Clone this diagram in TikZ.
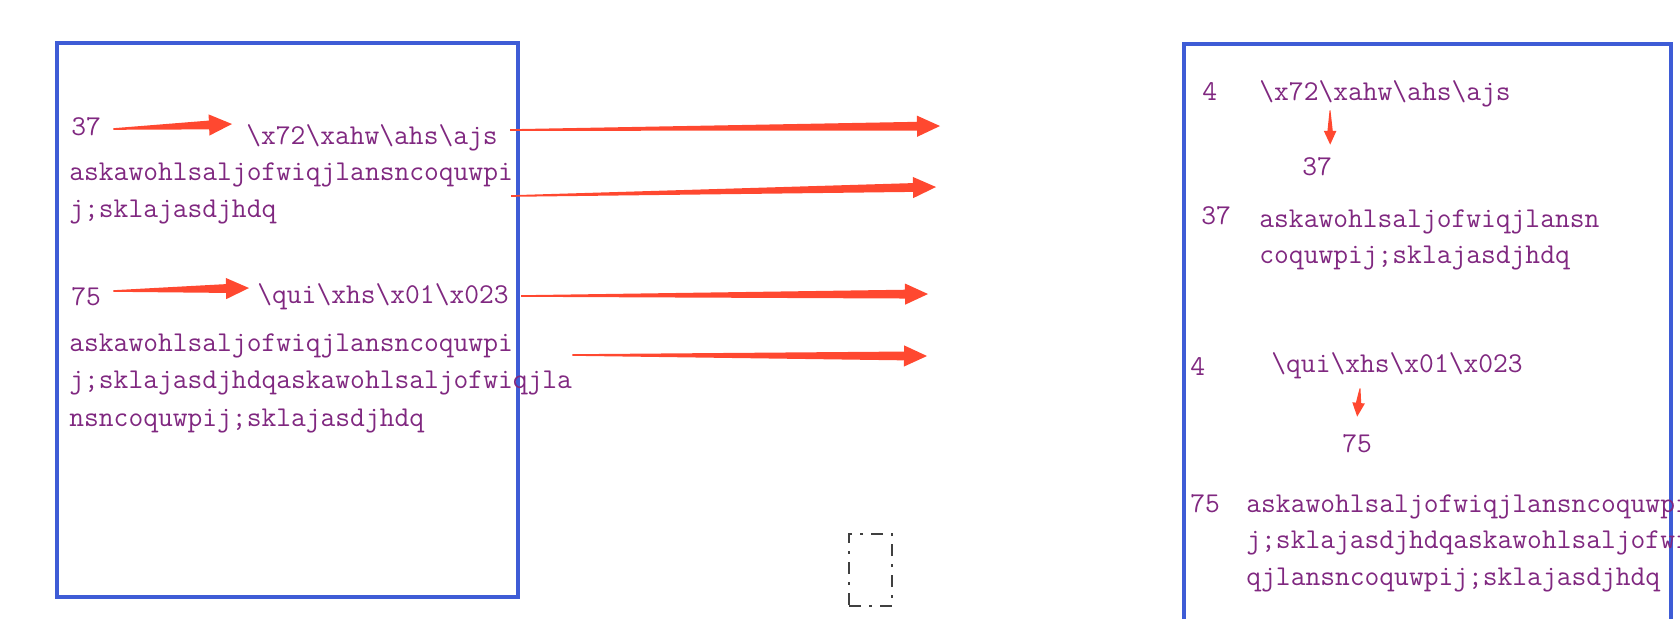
\documentclass[tikz,border=0pt]{standalone}
\usepackage{fontspec}
\usepackage{tikz}
\usetikzlibrary{calc}
\definecolor{txtPurple}{RGB}{128,40,128}
\definecolor{arrRed}{RGB}{255,72,48}
\definecolor{boxBlue}{RGB}{62,92,214}
\tikzset{
  txt/.style={ font=\ttfamily\fontsize{14.35}{17}\selectfont, text=txtPurple, inner sep=0pt, text height=10pt, text depth=3pt, anchor=base west }
}
\tikzset{
  memBox/.style={ draw=boxBlue, line width=2.3pt }
}
\tikzset{
  selBox/.style={ draw=black!75, line width=0.8pt, dash pattern=on 6pt off 4pt on 1.5pt off 4pt, minimum width=21.5pt, minimum height=36pt, inner sep=0pt }
}
\newcommand{\bsl}{\textbackslash}
\newcommand{\taper}[3][1]{%
  \fill[arrRed] let \p1=(#2), \p2=(#3), \n1={atan2(\y2-(\y1),\x2-(\x1))},
    \n2={11.5*#1}, \n3={5.3*#1}, \n4={2.2*#1}, \n5={0.4*#1} in
    ($(\p1)+(\n1+90:\n5pt)$) -- ($(\p2)+(\n1+180:\n2pt)+(\n1+90:\n4pt)$)
    -- ($(\p2)+(\n1+180:\n2pt)+(\n1+90:\n3pt)$) -- (\p2)
    -- ($(\p2)+(\n1+180:\n2pt)+(\n1-90:\n3pt)$)
    -- ($(\p2)+(\n1+180:\n2pt)+(\n1-90:\n4pt)$)
    -- ($(\p1)+(\n1-90:\n5pt)$) -- cycle;}

\begin{document}
\begin{tikzpicture}[x=0.5pt, y=-0.5pt]
        \useasboundingbox (0,0) rectangle (1680,618);
        \clip (0,0) rectangle (1680,618);
        \draw[memBox] (57,43) rectangle (518,597);
        \draw[memBox] (1184,44) rectangle (1671,660);
        \node[selBox] (sel) at (870.5,570) {};

        \node[txt] (n37) at (71,135) {37};
        \node[txt] (s72) at (246,144) {\bsl x72\bsl xahw\bsl ahs\bsl ajs};
        \node[txt] (p1a) at (69,180) {askawohlsaljofwiqjlansncoquwpi};
        \node[txt] (p1b) at (69,217) {j;sklajasdjhdq};
        \node[txt] (n75) at (71,305) {75};
        \node[txt] (s023) at (257,303) {\bsl qui\bsl xhs\bsl x01\bsl x023};
        \node[txt] (p2a) at (69,351) {askawohlsaljofwiqjlansncoquwpi};
        \node[txt] (p2b) at (69,388) {j;sklajasdjhdqaskawohlsaljofwiqjla};
        \node[txt] (p2c) at (69,426) {nsncoquwpij;sklajasdjhdq};

        \node[txt] (r4a) at (1202,100) {4};
        \node[txt] (rs72) at (1259,100) {\bsl x72\bsl xahw\bsl ahs\bsl ajs};
        \node[txt] (r37a) at (1302,175) {37};
        \node[txt] (r37b) at (1201,224) {37};
        \node[txt] (rp1a) at (1259,227) {askawohlsaljofwiqjlansn};
        \node[txt] (rp1b) at (1259,263) {coquwpij;sklajasdjhdq};
        \node[txt] (r4b) at (1190,375) {4};
        \node[txt] (rs023) at (1271,372) {\bsl qui\bsl xhs\bsl x01\bsl x023};
        \node[txt] (r75a) at (1342,452) {75};
        \node[txt] (r75b) at (1190,512) {75};
        \node[txt] (rp2a) at (1246,512) {askawohlsaljofwiqjlansncoquwpi};
        \node[txt] (rp2b) at (1246,548) {j;sklajasdjhdqaskawohlsaljofwi};
        \node[txt] (rp2c) at (1246,585) {qjlansncoquwpij;sklajasdjhdq};

        \coordinate (e1) at (940,126);
        \coordinate (e2) at (936,187);
        \coordinate (e3) at (928,294);
        \coordinate (e4) at (927,356);

        \taper{$(n37.east)+(12,1)$}{$(s72.west)+(-14,-13)$}
        \taper{$(n75.east)+(12,-7)$}{$(s023.west)+(-8,-8)$}
        \taper{$(s72.east)+(12,-7)$}{e1}
        \taper{$(p1a.east)+(-2,23)$}{e2}
        \taper{$(s023.east)+(12,0)$}{e3}
        \taper{$(p2b.east)+(0,-26)$}{e4}
        \taper[0.6]{$(rs72.south west)+(71,4)$}{$(r37a.north)+(13,-10)$}
        \taper[0.6]{$(rs023.south west)+(89,10)$}{$(r75a.north)+(0,-15)$}
      \end{tikzpicture}
\end{document}
